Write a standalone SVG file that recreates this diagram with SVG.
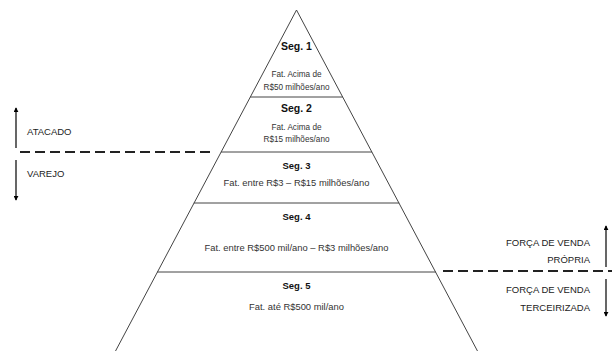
<svg xmlns="http://www.w3.org/2000/svg" width="612" height="351" viewBox="0 0 612 351">
<defs>
<marker id="ah" viewBox="0 0 6 6" refX="5" refY="3" markerWidth="5" markerHeight="5" orient="auto" markerUnits="userSpaceOnUse">
<path d="M0,0 L6,3 L0,6 Z" fill="#000"/>
</marker>
<style>
.edge{stroke:#444;stroke-width:1;fill:none}
.sep{stroke:#222;stroke-width:2;stroke-dasharray:10 5;fill:none}
.arr{stroke:#000;stroke-width:1.2;fill:none;marker-end:url(#ah)}
.h{font-family:"Liberation Sans",Arial,sans-serif;font-weight:bold;fill:#111;text-anchor:middle}
.t{font-family:"Liberation Sans",Arial,sans-serif;fill:#333;text-anchor:middle}
.lab{font-family:"Liberation Sans",Arial,sans-serif;font-size:9.5px;fill:#222}
</style>
</defs>
<rect width="612" height="351" fill="#fff"/>
<g id="pyramid">
<polyline class="edge" points="115,352 296.5,10 478,352"/>
</g>
<g id="seg1">
<text class="h" x="296.5" y="50" font-size="10.5">Seg. 1</text>
<text class="t" x="296.5" y="76.5" font-size="8.2">Fat. Acima de</text>
<text class="t" x="296.5" y="89.5" font-size="8.2">R$50 milhões/ano</text>
</g>
<g id="seg2">
<line class="edge" x1="250.2" y1="97" x2="342.8" y2="97"/>
<text class="h" x="296.5" y="112" font-size="10.5">Seg. 2</text>
<text class="t" x="296.5" y="129.5" font-size="8.2">Fat. Acima de</text>
<text class="t" x="296.5" y="141.5" font-size="8.2">R$15 milhões/ano</text>
</g>
<g id="seg3">
<line class="edge" x1="220.9" y1="152" x2="372.1" y2="152"/>
<text class="h" x="296.5" y="168.5" font-size="9.5">Seg. 3</text>
<text class="t" x="296.5" y="186" font-size="9.4">Fat. entre R$3 – R$15 milhões/ano</text>
</g>
<g id="seg4">
<line class="edge" x1="193.8" y1="203" x2="399.2" y2="203"/>
<text class="h" x="296.5" y="219.5" font-size="9.5">Seg. 4</text>
<text class="t" x="296.5" y="251" font-size="9.4">Fat. entre R$500 mil/ano – R$3 milhões/ano</text>
</g>
<g id="seg5">
<line class="edge" x1="157" y1="272" x2="436" y2="272"/>
<text class="h" x="296.5" y="288.5" font-size="9.5">Seg. 5</text>
<text class="t" x="296.5" y="310" font-size="9.4">Fat. até R$500 mil/ano</text>
</g>
<g id="atacado">
<text class="lab" x="27" y="135">ATACADO</text>
</g>
<g id="varejo">
<text class="lab" x="27" y="176.5">VAREJO</text>
</g>
<g id="forca-propria">
<text class="lab" x="590" y="246" text-anchor="end">FORÇA DE VENDA</text>
<text class="lab" x="590" y="263" text-anchor="end">PRÓPRIA</text>
</g>
<g id="forca-terceirizada">
<text class="lab" x="590" y="293" text-anchor="end">FORÇA DE VENDA</text>
<text class="lab" x="590" y="310.5" text-anchor="end">TERCEIRIZADA</text>
</g>
<g id="connectors">
<line class="sep" x1="20" y1="152" x2="213" y2="152"/>
<line class="sep" x1="443" y1="271" x2="612" y2="271"/>
<line class="arr" x1="16" y1="148" x2="16" y2="108"/>
<line class="arr" x1="16" y1="160" x2="16" y2="200"/>
<line class="arr" x1="606" y1="267" x2="606" y2="226"/>
<line class="arr" x1="606" y1="279" x2="606" y2="316"/>
</g>
</svg>
